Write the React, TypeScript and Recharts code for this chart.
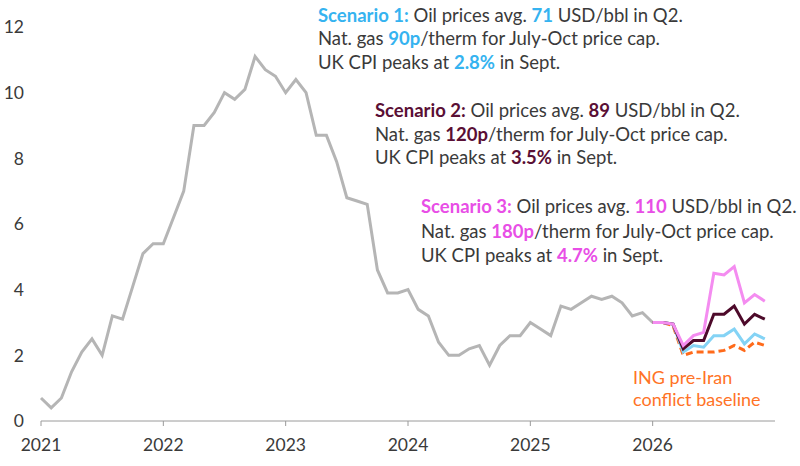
import React from "react";
import { LineChart, Line, XAxis, YAxis } from "recharts";

// Monthly UK CPI, % y/y, Jan 2021 – Jan 2026 (outturn)
const actualCpi: number[] = [
  0.7, 0.4, 0.7, 1.5, 2.1, 2.5, 2.0, 3.2, 3.1, 4.1, 5.1, 5.4,
  5.4, 6.2, 7.0, 9.0, 9.0, 9.4, 10.0, 9.8, 10.1, 11.1, 10.7, 10.5,
  10.0, 10.4, 10.0, 8.7, 8.7, 7.9, 6.8, 6.7, 6.6, 4.6, 3.9, 3.9,
  4.0, 3.4, 3.2, 2.4, 2.0, 2.0, 2.2, 2.3, 1.7, 2.3, 2.6, 2.6,
  3.0, 2.8, 2.6, 3.5, 3.4, 3.6, 3.8, 3.7, 3.8, 3.6, 3.2, 3.3,
  3.0,
];

// 2026 projections, Jan – Dec
const scenario1: number[] = [3.0, 3.0, 2.95, 2.1, 2.3, 2.25, 2.6, 2.6, 2.8, 2.35, 2.65, 2.5];
const scenario2: number[] = [3.0, 3.0, 2.95, 2.2, 2.45, 2.45, 3.25, 3.25, 3.5, 2.95, 3.25, 3.1];
const scenario3: number[] = [3.0, 3.0, 2.95, 2.3, 2.6, 2.7, 4.5, 4.45, 4.7, 3.6, 3.85, 3.65];
const baseline: number[] = [3.0, 3.0, 2.9, 2.0, 2.1, 2.1, 2.1, 2.15, 2.3, 2.15, 2.4, 2.3];

const startYear = 2021;
const yearTicks: number[] = [2021, 2022, 2023, 2024, 2025, 2026];
const valueTicks: number[] = [0, 2, 4, 6, 8, 10, 12];

const projectionStart = 60; // Jan 2026
const totalMonths = 72;

type Row = {
  t: number;
  actual?: number;
  s1?: number;
  s2?: number;
  s3?: number;
  base?: number;
};

const rows: Row[] = Array.from({ length: totalMonths }, (_, i) => {
  const r: Row = { t: startYear + i / 12 };
  if (i < actualCpi.length) r.actual = actualCpi[i];
  if (i >= projectionStart) {
    const k = i - projectionStart;
    r.s1 = scenario1[k];
    r.s2 = scenario2[k];
    r.s3 = scenario3[k];
    r.base = baseline[k];
  }
  return r;
});

const FONT = "Lato, 'Open Sans', sans-serif";
const TEXT = "#3a3a3a";
const C_GREY = "#b5b5b5";
const C_S1 = "#84d3f5";
const C_S1_TXT = "#35b3f0";
const C_S2 = "#4d0a2a";
const C_S2_TXT = "#5a0f35";
const C_S3 = "#f48cf0";
const C_S3_TXT = "#e84ee6";
const C_BASE = "#ff6a1a";
const C_BASE_TXT = "#ff7326";
const NOTE_SIZE = 18.5;

type Seg = { t: string; c?: string; b?: boolean };

function Block({ x, y, gap, lines }: { x: number; y: number; gap: number; lines: Seg[][] }) {
  return (
    <>
      {lines.map((segs, li) => (
        <text key={li} x={x} y={y + li * gap} fontFamily={FONT} fontSize={NOTE_SIZE} fill={TEXT}>
          {segs.map((s, si) => (
            <tspan key={si} fill={s.c ?? TEXT} fontWeight={s.b ? 700 : 400}>
              {s.t}
            </tspan>
          ))}
        </text>
      ))}
    </>
  );
}

export default function App() {
  return (
    <div style={{ position: "absolute", left: 0, top: 0, width: 800, height: 466, background: "#fff" }}>
      <LineChart
        width={800}
        height={466}
        data={rows}
        margin={{ top: 27, right: 25, bottom: 15, left: 0 }}
      >
        <XAxis
          dataKey="t"
          type="number"
          domain={[2021, 2026.94]}
          ticks={yearTicks}
          tickFormatter={(v: number) => String(Math.round(v))}
          allowDecimals={false}
          height={30}
          stroke="#9a9a9a"
          tickSize={5}
          tickMargin={13}
          tick={{ fill: TEXT, fontSize: 17.5, fontFamily: FONT }}
        />
        <YAxis
          type="number"
          domain={[0, 12]}
          ticks={valueTicks}
          width={41}
          axisLine={false}
          tickLine={false}
          tickMargin={11}
          tick={{ fill: TEXT, fontSize: 17.5, fontFamily: FONT }}
        />
        <Line dataKey="actual" stroke={C_GREY} strokeWidth={3} dot={false} isAnimationActive={false} />
        <Line
          dataKey="base"
          stroke={C_BASE}
          strokeWidth={3}
          strokeDasharray="7 4"
          dot={false}
          isAnimationActive={false}
        />
        <Line dataKey="s1" stroke={C_S1} strokeWidth={3} dot={false} isAnimationActive={false} />
        <Line dataKey="s2" stroke={C_S2} strokeWidth={3} dot={false} isAnimationActive={false} />
        <Line dataKey="s3" stroke={C_S3} strokeWidth={3} dot={false} isAnimationActive={false} />
      </LineChart>
      <svg
        width={800}
        height={466}
        style={{ position: "absolute", left: 0, top: 0, pointerEvents: "none" }}
      >
        <Block
          x={318}
          y={21.5}
          gap={23.5}
          lines={[
            [{ t: "Scenario 1:", c: C_S1_TXT, b: true }, { t: " Oil prices avg. " }, { t: "71", c: C_S1_TXT, b: true }, { t: " USD/bbl in Q2." }],
            [{ t: "Nat. gas " }, { t: "90p", c: C_S1_TXT, b: true }, { t: "/therm for July-Oct price cap." }],
            [{ t: "UK CPI peaks at " }, { t: "2.8%", c: C_S1_TXT, b: true }, { t: " in Sept." }],
          ]}
        />
        <Block
          x={375}
          y={117}
          gap={23.5}
          lines={[
            [{ t: "Scenario 2:", c: C_S2_TXT, b: true }, { t: " Oil prices avg. " }, { t: "89", c: C_S2_TXT, b: true }, { t: " USD/bbl in Q2." }],
            [{ t: "Nat. gas " }, { t: "120p", c: C_S2_TXT, b: true }, { t: "/therm for July-Oct price cap." }],
            [{ t: "UK CPI peaks at " }, { t: "3.5%", c: C_S2_TXT, b: true }, { t: " in Sept." }],
          ]}
        />
        <Block
          x={421}
          y={213}
          gap={24.5}
          lines={[
            [{ t: "Scenario 3:", c: C_S3_TXT, b: true }, { t: " Oil prices avg. " }, { t: "110", c: C_S3_TXT, b: true }, { t: " USD/bbl in Q2." }],
            [{ t: "Nat. gas " }, { t: "180p", c: C_S3_TXT, b: true }, { t: "/therm for July-Oct price cap." }],
            [{ t: "UK CPI peaks at " }, { t: "4.7%", c: C_S3_TXT, b: true }, { t: " in Sept." }],
          ]}
        />
        <text x={633} y={384} fontFamily={FONT} fontSize={18} fill={C_BASE_TXT}>
          ING pre-Iran
        </text>
        <text x={633} y={406} fontFamily={FONT} fontSize={18} fill={C_BASE_TXT}>
          conflict baseline
        </text>
      </svg>
    </div>
  );
}
